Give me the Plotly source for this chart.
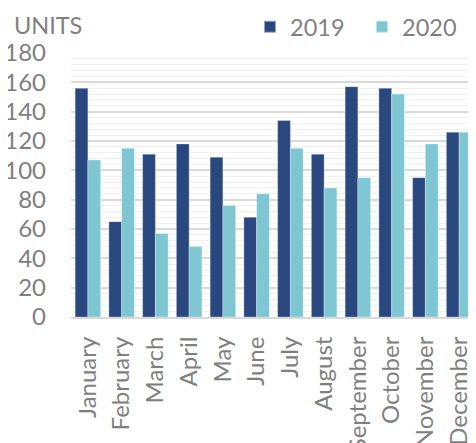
import plotly.graph_objects as go

months = ["January", "February", "March", "April", "May", "June", "July",
          "August", "September", "October", "November", "December"]
units_2019 = [156, 65, 111, 118, 109, 68, 134, 111, 157, 156, 95, 126]
units_2020 = [107, 115, 57, 48, 76, 84, 115, 88, 95, 152, 118, 126]
y_ticks = [0, 20, 40, 60, 80, 100, 120, 140, 160, 180]

C2019 = "#29487f"
C2020 = "#7fc6d3"
GRAY = "#7f7f7f"
FONT = "Lato"

fig = go.Figure()
fig.add_trace(go.Bar(x=months, y=units_2019, name="2019",
                     marker=dict(color=C2019, line=dict(color="rgba(255,255,255,0.5)", width=0.6))))
fig.add_trace(go.Bar(x=months, y=units_2020, name="2020",
                     marker=dict(color=C2020, line=dict(color="rgba(255,255,255,0.5)", width=0.6))))

# page body has an 8px margin, so the figure is sized/placed to compensate
W, H = 468, 435
L, R, T, B = 63, 0, 45, 126
pw, ph = W - L - R, H - T - B

fig.update_layout(
    width=W, height=H,
    margin=dict(l=L, r=R, t=T, b=B, pad=0, autoexpand=False),
    paper_bgcolor="white", plot_bgcolor="white",
    font=dict(family=FONT, size=23, color=GRAY),
    barmode="group", bargap=0.245, bargroupgap=0,
    showlegend=True,
    legend=dict(orientation="h", xref="container", yref="container",
                x=242 / W, y=1 - 19 / H,
                xanchor="left", yanchor="middle",
                font=dict(family=FONT, size=23.5, color=GRAY),
                bgcolor="rgba(0,0,0,0)", itemsizing="constant",
                entrywidth=67, entrywidthmode="pixels", tracegroupgap=0),
    xaxis=dict(type="category", range=[-0.5, 11.5], tickangle=-90,
               showgrid=False, showline=True, linecolor="#d9d9d9", linewidth=2,
               ticks="", ticklabelstandoff=8, automargin=False,
               tickfont=dict(family=FONT, size=24, color=GRAY)),
    yaxis=dict(range=[0, 180], tickvals=y_ticks, showgrid=True,
               gridcolor="#d9d9d9", gridwidth=1.5, zeroline=False,
               ticks="", ticklabelstandoff=24, automargin=False,
               tickfont=dict(family=FONT, size=24, color=GRAY),
               minor=dict(dtick=4, showgrid=True, gridcolor="#f0f0f0", gridwidth=1)),
    annotations=[dict(text="UNITS", xref="paper", yref="paper",
                      x=(4 - L) / pw, y=1 + (T - 17) / ph,
                      xanchor="left", yanchor="middle", showarrow=False,
                      font=dict(family=FONT, size=23.5, color=GRAY))],
)

fig.write_html("out.html")
